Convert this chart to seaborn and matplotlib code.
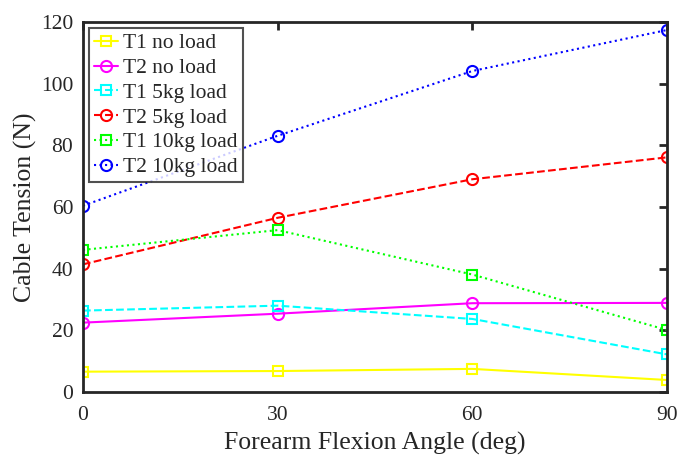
import seaborn as sns
import matplotlib.pyplot as plt

angles = [0, 30, 60, 90]
t1_no_load = [6.6, 6.8, 7.5, 3.9]
t2_no_load = [22.5, 25.4, 28.8, 28.9]
t1_5kg = [26.4, 28.0, 23.7, 12.2]
t2_5kg = [41.4, 56.5, 69.0, 76.1]
t1_10kg = [46.1, 52.5, 38.1, 20.1]
t2_10kg = [60.4, 83.1, 104.1, 117.4]

labels = ["T1 no load", "T2 no load", "T1 5kg load", "T2 5kg load", "T1 10kg load", "T2 10kg load"]
series = [t1_no_load, t2_no_load, t1_5kg, t2_5kg, t1_10kg, t2_10kg]
colors = ["#ffff00", "#ff00ff", "#00ffff", "#ff0000", "#00ff00", "#0000ff"]
styles = ["-", "-", "--", "--", ":", ":"]
markers = ["s", "o", "s", "o", "s", "o"]

sns.set_style("white")
plt.rcParams["font.family"] = ["Liberation Serif", "DejaVu Serif"]

fig = plt.figure(figsize=(6.78, 4.57), dpi=100)
ax = fig.add_axes([0.1224, 0.1422, 0.8614, 0.8097])

for vals, lab, c, ls, m in zip(series, labels, colors, styles, markers):
    sns.lineplot(x=angles, y=vals, ax=ax, label=lab, color=c, linestyle=ls,
                 marker=m, markersize=8 if m == "o" else 7, markerfacecolor="none",
                 markeredgecolor=c, markeredgewidth=1.5, linewidth=1.5)

ax.set_xlim(0, 90)
ax.set_ylim(0, 120)
ax.set_xticks(angles)
ax.set_yticks(range(0, 121, 20))
ax.tick_params(direction="in", length=6, width=2, labelsize=15.5, color="#262626",
               labelcolor="#262626", top=True, right=True, pad=7)
ax.tick_params(axis="x", pad=10)
for s in ax.spines.values():
    s.set_linewidth(2)
    s.set_color("#262626")
ax.set_xlabel("Forearm Flexion Angle (deg)", fontsize=18.5, color="#262626", labelpad=5)
ax.set_ylabel("Cable Tension (N)", fontsize=18.5, color="#262626", labelpad=3)

leg = ax.legend(loc="upper left", fontsize=15.5, frameon=True, fancybox=False,
                edgecolor="#262626", borderaxespad=0.3, handlelength=1.1,
                handletextpad=0.25, labelspacing=0.22, borderpad=0.22)
leg.get_frame().set_linewidth(1.5)

fig.savefig("out.png", dpi=100)
